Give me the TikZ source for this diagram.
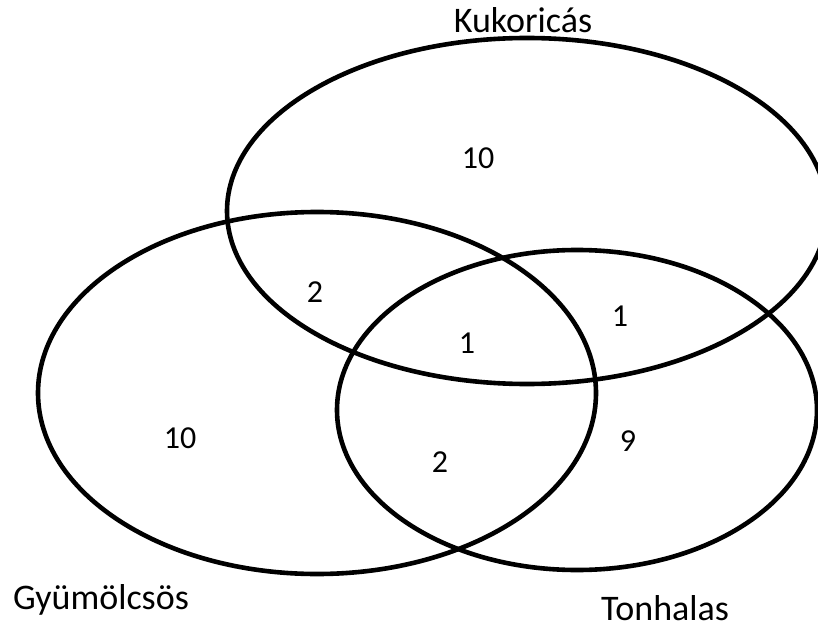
\documentclass[tikz,border=0pt]{standalone}
\usepackage{fontspec}
\setmainfont{Carlito}
\usetikzlibrary{shapes.geometric}

\begin{document}
\begin{tikzpicture}[x=1pt,y=-1pt,line width=4.6pt,
  set/.style={ellipse,draw=black,inner sep=0pt},
  num/.style={anchor=base,inner sep=0pt,font=\fontsize{32}{38}\selectfont},
  lbl/.style={anchor=base,inner sep=0pt,font=\fontsize{36}{42}\selectfont}]
\useasboundingbox (0,0) rectangle (818,628);
\clip (0,0) rectangle (818,628);
% the three sets
\node[set,minimum width=600pt,minimum height=346pt] (kuk) at (527,211) {};
\node[set,minimum width=558pt,minimum height=362pt] (gyu) at (317,393) {};
\node[set,minimum width=480pt,minimum height=320pt] (ton) at (577,410) {};
% set names
\node[lbl] (kukname) at (523,33) {Kukoricás};
\node[lbl] (gyuname) at (101,609) {Gyümölcsös};
\node[lbl] (tonname) at (665,620) {Tonhalas};
% counts
\node[num] (n1) at (478,169) {10};
\node[num] (n2) at (315,302) {2};
\node[num] (n3) at (620,326) {1};
\node[num] (n4) at (467,353) {1};
\node[num] (n5) at (180,448) {10};
\node[num] (n6) at (440,472) {2};
\node[num] (n7) at (628,451) {9};
\end{tikzpicture}
\end{document}
